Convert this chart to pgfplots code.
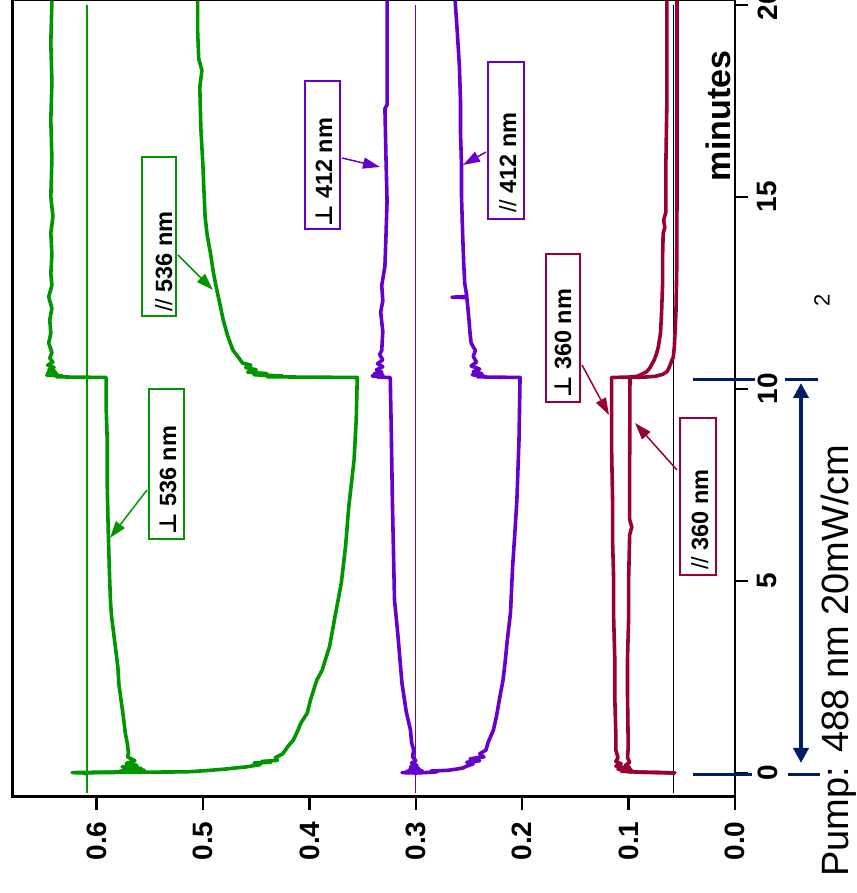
\documentclass[border=0pt]{standalone}
\usepackage{fontspec}
\setmainfont{Liberation Sans}
\newfontfamily\symf{DejaVu Sans}
\usepackage{pgfplots}
\usepackage{pgfplotstable}
\pgfplotsset{compat=1.18}
\usetikzlibrary{arrows.meta}
\definecolor{colG}{RGB}{0,150,0}
\definecolor{colP}{RGB}{102,0,204}
\definecolor{colM}{RGB}{153,0,51}
\definecolor{colN}{RGB}{0,30,100}
\newcommand\fsz[1]{\fontsize{#1}{#1}\selectfont}
\newcommand\prp{{\symf ⊥}}
\newcommand\prl{{\mdseries //}}

% green, perpendicular 536 nm
\pgfplotstableread{
t A
-0.02 0.609
0.00 0.612
0.01 0.623
0.02 0.600
0.03 0.565
0.05 0.578
0.07 0.555
0.09 0.574
0.12 0.558
0.16 0.576
0.20 0.562
0.25 0.572
0.32 0.564
0.42 0.571
0.52 0.570
0.75 0.571
1.04 0.573
1.50 0.575
1.90 0.577
2.30 0.579
2.76 0.580
3.20 0.582
3.65 0.584
4.10 0.586
4.50 0.587
5.30 0.588
6.25 0.589
7.50 0.590
8.67 0.590
9.50 0.591
10.30 0.591
10.31 0.625
10.32 0.638
10.34 0.632
10.36 0.647
10.39 0.637
10.42 0.646
10.46 0.639
10.50 0.645
10.56 0.640
10.62 0.646
10.70 0.641
10.80 0.644
10.95 0.642
11.20 0.645
11.45 0.643
11.80 0.644
12.10 0.642
12.40 0.645
12.70 0.642
13.00 0.643
13.50 0.642
14.06 0.643
14.50 0.641
15.00 0.643
16.00 0.642
17.00 0.643
18.00 0.642
19.00 0.643
20.10 0.642
}\gperp

% green, parallel 536 nm
\pgfplotstableread{
t A
-0.02 0.609
0.00 0.612
0.01 0.600
0.02 0.560
0.03 0.515
0.06 0.498
0.10 0.480
0.16 0.459
0.22 0.446
0.26 0.452
0.28 0.436
0.30 0.445
0.33 0.430
0.40 0.432
0.50 0.425
0.70 0.420
0.86 0.415
1.10 0.411
1.30 0.408
1.56 0.402
1.90 0.399
2.42 0.393
2.68 0.388
3.30 0.381
4.06 0.376
4.95 0.370
5.90 0.366
6.93 0.363
8.15 0.358
9.20 0.356
10.30 0.355
10.31 0.410
10.32 0.440
10.34 0.425
10.37 0.452
10.40 0.440
10.44 0.458
10.50 0.450
10.56 0.460
10.62 0.455
10.68 0.463
10.76 0.465
11.02 0.472
11.40 0.477
11.80 0.481
12.20 0.484
12.58 0.487
13.00 0.490
13.54 0.493
14.00 0.496
14.48 0.498
15.10 0.499
15.78 0.500
16.80 0.502
17.86 0.503
18.30 0.501
18.60 0.504
19.30 0.505
20.10 0.505
}\gpar

% purple, perpendicular 412 nm
\pgfplotstableread{
t A
-0.02 0.300
0.00 0.300
0.01 0.313
0.02 0.296
0.04 0.309
0.06 0.294
0.09 0.306
0.12 0.297
0.16 0.305
0.20 0.299
0.26 0.304
0.32 0.300
0.42 0.303
0.60 0.302
0.80 0.304
1.12 0.305
1.60 0.309
2.34 0.313
3.00 0.315
3.65 0.317
4.50 0.320
5.80 0.321
7.10 0.322
8.85 0.323
10.30 0.324
10.31 0.336
10.32 0.330
10.34 0.341
10.37 0.331
10.40 0.339
10.44 0.332
10.50 0.337
10.58 0.331
10.66 0.336
10.76 0.331
10.90 0.334
11.00 0.332
11.50 0.331
12.00 0.333
12.30 0.331
12.70 0.332
13.20 0.329
14.00 0.328
14.90 0.327
16.00 0.328
17.30 0.329
17.40 0.327
18.50 0.327
20.10 0.327
}\pperp

% purple, parallel 412 nm
\pgfplotstableread{
t A
-0.02 0.300
0.00 0.300
0.01 0.292
0.03 0.280
0.05 0.286
0.07 0.270
0.10 0.262
0.13 0.256
0.18 0.252
0.24 0.246
0.28 0.252
0.32 0.240
0.37 0.249
0.42 0.236
0.50 0.240
0.60 0.234
0.80 0.232
1.12 0.227
1.50 0.224
1.98 0.221
2.42 0.218
2.90 0.216
3.46 0.214
4.17 0.211
5.37 0.209
6.20 0.207
7.10 0.205
8.67 0.203
10.30 0.202
10.31 0.232
10.32 0.242
10.34 0.236
10.37 0.247
10.40 0.238
10.45 0.246
10.52 0.240
10.60 0.248
10.70 0.243
10.85 0.246
11.00 0.244
11.20 0.248
11.45 0.249
11.80 0.250
12.10 0.251
12.38 0.252
12.39 0.266
12.41 0.252
12.75 0.254
13.30 0.255
14.06 0.256
15.00 0.257
15.80 0.257
16.70 0.258
17.50 0.258
18.40 0.259
19.30 0.261
20.10 0.263
}\ppar

% maroon, perpendicular 360 nm
\pgfplotstableread{
t A
-0.02 0.056
0.00 0.057
0.01 0.066
0.02 0.085
0.03 0.098
0.05 0.107
0.07 0.102
0.10 0.110
0.14 0.104
0.18 0.112
0.24 0.107
0.30 0.112
0.40 0.110
0.60 0.112
1.00 0.112
2.00 0.113
3.00 0.113
4.00 0.114
5.00 0.114
6.00 0.115
7.00 0.115
8.50 0.116
10.30 0.116
10.31 0.100
10.33 0.092
10.38 0.088
10.45 0.083
10.55 0.080
10.65 0.078
10.75 0.076
10.90 0.074
11.10 0.072
11.46 0.070
12.00 0.069
12.76 0.068
13.50 0.068
14.06 0.0675
14.20 0.066
14.40 0.067
14.60 0.065
15.80 0.065
17.50 0.064
20.10 0.064
}\mperp

% maroon, parallel 360 nm
\pgfplotstableread{
t A
-0.02 0.056
0.00 0.057
0.01 0.070
0.02 0.088
0.03 0.097
0.05 0.103
0.07 0.097
0.10 0.104
0.14 0.099
0.20 0.103
0.28 0.099
0.40 0.101
0.60 0.1005
1.00 0.1005
2.00 0.101
3.00 0.101
4.00 0.100
5.00 0.100
6.20 0.099
6.40 0.097
6.60 0.099
8.00 0.099
10.30 0.0987
10.31 0.085
10.33 0.075
10.38 0.068
10.45 0.064
10.55 0.062
10.70 0.060
10.83 0.058
11.10 0.057
11.46 0.0564
12.00 0.0555
13.00 0.0548
15.00 0.0545
20.10 0.0545
}\mpar

\begin{document}
\begin{tikzpicture}
\begin{axis}[
  at={(12pt,96pt)}, anchor=south west,
  width=723pt, height=797pt, scale only axis,
  x dir=reverse, xmin=0, xmax=0.6795,
  ymin=-0.625, ymax=20.13,
  axis line style={draw=none},
  xtick={0,0.1,0.2,0.3,0.4,0.5,0.6},
  xticklabels={0.0,0.1,0.2,0.3,0.4,0.5,0.6},
  ytick={0,5,10,15,20},
  yticklabels={0,5,10,15,20},
  xtick pos=bottom, ytick pos=right,
  xticklabel pos=bottom, yticklabel pos=right,
  tick align=outside,
  major tick length=13pt,
  tick style={line width=2.5pt, black},
  xticklabel style={rotate=90, anchor=east, font=\bfseries\fsz{28}},
  yticklabel style={rotate=90, anchor=north, font=\bfseries\fsz{28}},
  xticklabel shift=8pt,
  yticklabel shift=6pt,
]
% reference levels
\addplot[colG, line width=1.4pt] coordinates {(0.609,-0.52) (0.609,20.0)};
\addplot[colP, line width=1.4pt] coordinates {(0.300,-0.52) (0.300,20.0)};
\addplot[black, line width=1.1pt] coordinates {(0.058,-0.52) (0.058,20.0)};
% traces
\addplot[colG, line width=3.6pt, line join=round] table[x=A,y=t] {\gperp};
\addplot[colG, line width=3.6pt, line join=round] table[x=A,y=t] {\gpar};
\addplot[colP, line width=3.6pt, line join=round] table[x=A,y=t] {\pperp};
\addplot[colP, line width=3.6pt, line join=round] table[x=A,y=t] {\ppar};
\addplot[colM, line width=3.6pt, line join=round] table[x=A,y=t] {\mperp};
\addplot[colM, line width=3.6pt, line join=round] table[x=A,y=t] {\mpar};
\end{axis}

\begin{scope}[x=1pt, y=-1pt, shift={(0pt,893pt)}]
% frame
\draw[line width=1.2pt] (12,0.6) -- (735,0.6);
\draw[line width=3pt] (12,0) -- (12,798.5);
\draw[line width=3pt] (10.5,797) -- (736,797);
\draw[line width=2.5pt] (735,0) -- (735,797);
% minutes label
\node[rotate=90, anchor=base, inner sep=0, font=\bfseries\fsz{34}] at (730,116) {minutes};
% pump marks
\draw[colN, line width=3pt] (693,775) -- (752,775);
\draw[colN, line width=3pt] (788,775) -- (820,775);
\draw[colN, line width=3pt] (693,380) -- (755,380);
\draw[colN, line width=3pt] (785,380) -- (818,380);
\draw[colN, line width=4pt, {Triangle[length=15pt,width=15pt]}-{Triangle[length=15pt,width=15pt]}] (801,383) -- (801,763);
\node[rotate=90, anchor=base west, inner sep=0, font=\fsz{38}] at (848,877) {Pump: 488 nm 20mW/cm};
\node[rotate=90, inner sep=0, font=\fsz{22}] at (822,300) {2};
% annotation boxes
\tikzset{lab/.style={rotate=90, anchor=base west, inner sep=0, font=\bfseries\fsz{23.5}},
         arr/.style={line width=1.5pt, -{Triangle[length=17pt,width=11pt]}}}
\draw[colG, line width=1.3pt] (142,157) rectangle (176,316);
\node[lab] at (172,312) {\prl\ 536 nm};
\draw[colG, arr] (178,255) -- (213,290);
\draw[colG, line width=1.3pt] (149,389) rectangle (184,539);
\node[lab] at (176,535) {\prp\ 536 nm};
\draw[colG, arr] (147,490) -- (110,538);
\draw[colP, line width=1.3pt] (305,81) rectangle (340,229);
\node[lab] at (332,227) {\prp\ 412 nm};
\draw[colP, arr] (342,158) -- (380,167);
\draw[colP, line width=1.3pt] (488,62) rectangle (524,219);
\node[lab] at (516,213) {\prl\ 412 nm};
\draw[colP, arr] (486,152) -- (463,165);
\draw[colM, line width=1.3pt] (546,254) rectangle (580,402);
\node[lab] at (571,398) {\prp\ 360 nm};
\draw[colM, arr] (582,365) -- (609,415);
\draw[colM, line width=1.3pt] (680,418) rectangle (716,575);
\node[lab] at (708,570) {\prl\ 360 nm};
\draw[colM, arr] (677,470) -- (635,423);
\end{scope}
\pgfresetboundingbox
\path (0,0) rectangle (856pt,893pt);
\end{tikzpicture}
\end{document}
